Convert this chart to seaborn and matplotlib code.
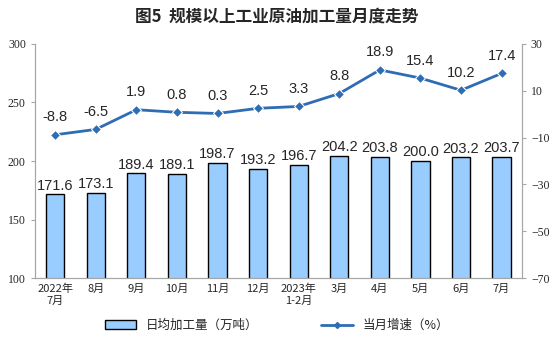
import numpy as np
import pandas as pd
import matplotlib.pyplot as plt
import seaborn as sns
from matplotlib.patches import Patch
from matplotlib.lines import Line2D

months = ['2022年\n7月', '8月', '9月', '10月', '11月', '12月', '2023年\n1-2月',
          '3月', '4月', '5月', '6月', '7月']
daily_output = [171.6, 173.1, 189.4, 189.1, 198.7, 193.2, 196.7, 204.2, 203.8, 200.0, 203.2, 203.7]
growth = [-8.8, -6.5, 1.9, 0.8, 0.3, 2.5, 3.3, 8.8, 18.9, 15.4, 10.2, 17.4]

sns.set_style('white')
plt.rcParams['font.family'] = ['Noto Sans CJK SC', 'DejaVu Sans']

df = pd.DataFrame({'month': months, 'output': daily_output, 'growth': growth})

fig = plt.figure(figsize=(5.54, 3.57), dpi=100)
ax = fig.add_axes([0.063, 0.221, 0.879, 0.656])

# barras
sns.barplot(data=df, x='month', y='output', ax=ax, color='#99CCFF',
            edgecolor='black', linewidth=1.0, width=0.45, saturation=1)
ax.set_ylim(100, 300)
ax.set_yticks(range(100, 301, 50))
ax.set_xlabel('')
ax.set_ylabel('')
for i, v in enumerate(daily_output):
    ax.text(i, v + 1.5, f'{v:.1f}', ha='center', va='bottom', fontsize=10.5, family='Liberation Sans')

# linea de crecimiento
ax2 = ax.twinx()
sns.lineplot(x=np.arange(len(months)), y=growth, ax=ax2, color='#2E6DB4',
             marker='D', markersize=5, linewidth=2)
ax2.set_ylim(-70, 30)
ax2.set_yticks(range(-70, 31, 20))
for i, v in enumerate(growth):
    ax2.text(i, v + 4.5, f'{v:.1f}', ha='center', va='bottom', fontsize=10.5, family='Liberation Sans')

for a in (ax, ax2):
    a.spines['top'].set_visible(False)
    for s in ('left', 'right', 'bottom'):
        a.spines[s].set_color('#A6A6A6')
        a.spines[s].set_linewidth(0.8)
    a.tick_params(axis='y', labelsize=8.5, length=3, color='#A6A6A6')
ax.tick_params(axis='x', labelsize=8, length=0, pad=4)
ax.set_xticks(np.arange(-0.5, len(months), 1), minor=True)
ax.tick_params(axis='x', which='minor', length=3, color='#A6A6A6', direction='out')
for lbl in ax.get_yticklabels() + ax2.get_yticklabels():
    lbl.set_family('Liberation Serif')
ax.set_xlim(-0.5, len(months) - 0.5)

fig.text(0.5, 0.955, '图5  规模以上工业原油加工量月度走势', ha='center', va='center',
         fontsize=12, fontweight='bold')

h1 = Patch(facecolor='#99CCFF', edgecolor='black', label='日均加工量（万吨）')
h2 = Line2D([0], [0], color='#2E6DB4', marker='D', markersize=3, linewidth=2, label='当月增速（%）')
fig.legend(handles=[h1, h2], loc='center', bbox_to_anchor=(0.5, 0.088), ncol=2,
           frameon=False, fontsize=9, columnspacing=5, handlelength=2.5)

fig.savefig('out.png', dpi=100)
